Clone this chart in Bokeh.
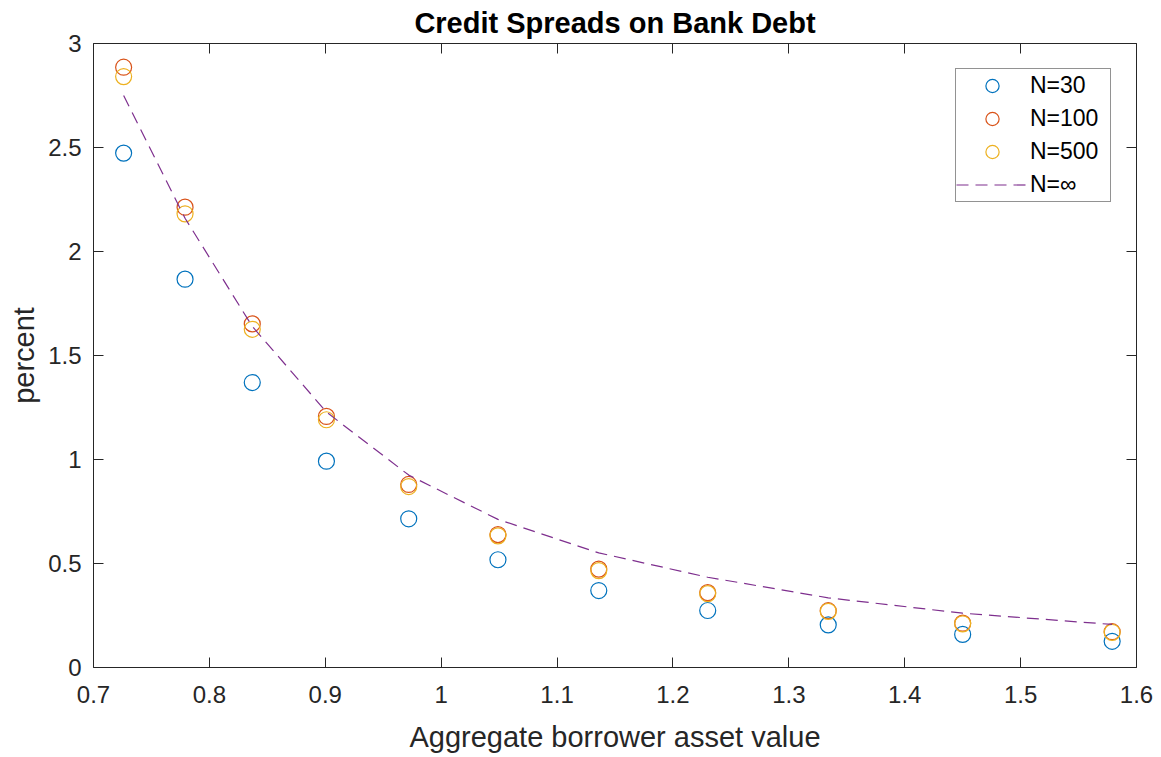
from bokeh.plotting import figure
from bokeh.models import LinearAxis, FixedTicker, Legend, LegendItem, Range1d
from bokeh.embed import file_html
from bokeh.resources import INLINE

# Aggregate borrower asset value (x) and credit spreads in percent per pool size
asset_value = [0.726, 0.779, 0.837, 0.901, 0.972, 1.049, 1.136, 1.230, 1.334, 1.450, 1.579]
spread_n30 = [2.473, 1.867, 1.370, 0.992, 0.715, 0.518, 0.370, 0.274, 0.205, 0.159, 0.126]
spread_n100 = [2.886, 2.213, 1.652, 1.207, 0.880, 0.639, 0.473, 0.360, 0.273, 0.213, 0.172]
spread_n500 = [2.841, 2.181, 1.626, 1.191, 0.870, 0.633, 0.466, 0.355, 0.270, 0.210, 0.169]
spread_inf = [2.750, 2.160, 1.640, 1.228, 0.925, 0.712, 0.551, 0.434, 0.335, 0.261, 0.207]

series_labels = ["N=30", "N=100", "N=500", "N=\u221e"]

x_ticks = [0.7, 0.8, 0.9, 1.0, 1.1, 1.2, 1.3, 1.4, 1.5, 1.6]
x_tick_labels = ["0.7", "0.8", "0.9", "1", "1.1", "1.2", "1.3", "1.4", "1.5", "1.6"]
y_ticks = [0, 0.5, 1, 1.5, 2, 2.5, 3]
y_tick_labels = ["0", "0.5", "1", "1.5", "2", "2.5", "3"]

FONT = "Liberation Sans"
AXIS_COLOR = "#262626"
C_BLUE, C_RED, C_YELLOW, C_PURPLE = "#0072BD", "#D95319", "#EDB120", "#7E2F8E"

p = figure(
    width=1161, height=757,
    x_range=Range1d(0.7, 1.6), y_range=Range1d(0, 3),
    output_backend="svg", toolbar_location=None,
    title="Credit Spreads on Bank Debt",
    min_border_left=93, min_border_right=25,
    min_border_top=43, min_border_bottom=90,
)
p.title.align = "center"
p.title.text_font = FONT
p.title.text_font_size = "29px"
p.title.text_font_style = "bold"
p.title.text_color = "black"
p.title.standoff = 9

p.xgrid.grid_line_color = None
p.ygrid.grid_line_color = None
p.outline_line_color = None
p.background_fill_color = "white"
p.border_fill_color = "white"

bottom_axis = p.below[0]
left_axis = p.left[0]

# Box-style axes: ticks pointing inward on all four sides
top_axis = LinearAxis()
right_axis = LinearAxis()
p.add_layout(top_axis, "above")
p.add_layout(right_axis, "right")

x_axes = [bottom_axis, top_axis]
y_axes = [left_axis, right_axis]
for ax in x_axes:
    ax.ticker = FixedTicker(ticks=x_ticks)
for ax in y_axes:
    ax.ticker = FixedTicker(ticks=y_ticks)
for ax in x_axes + y_axes:
    ax.axis_line_color = AXIS_COLOR
    ax.axis_line_width = 1
    ax.major_tick_line_color = AXIS_COLOR
    ax.major_tick_in = 10
    ax.major_tick_out = 0
    ax.minor_tick_line_color = None
    ax.major_label_text_font = FONT
    ax.major_label_text_color = AXIS_COLOR
    ax.major_label_text_font_size = "24px"
    ax.axis_label_text_font = FONT
    ax.axis_label_text_font_style = "normal"
    ax.axis_label_text_color = AXIS_COLOR
    ax.axis_label_text_font_size = "29px"
for ax in (top_axis, right_axis):
    ax.major_label_text_font_size = "1px"
    ax.major_label_text_color = None
    ax.major_label_standoff = 0

bottom_axis.major_label_overrides = dict(zip(x_ticks, x_tick_labels))
left_axis.major_label_overrides = dict(zip(y_ticks, y_tick_labels))
bottom_axis.major_label_standoff = 18
left_axis.major_label_standoff = 12
bottom_axis.axis_label = "Aggregate borrower asset value"
left_axis.axis_label = "percent"
bottom_axis.axis_label_standoff = 15
left_axis.axis_label_standoff = 5

r30 = p.scatter(asset_value, spread_n30, marker="circle", size=16,
                fill_color=None, line_color=C_BLUE, line_width=1.2)
r100 = p.scatter(asset_value, spread_n100, marker="circle", size=16,
                 fill_color=None, line_color=C_RED, line_width=1.2)
r500 = p.scatter(asset_value, spread_n500, marker="circle", size=16,
                 fill_color=None, line_color=C_YELLOW, line_width=1.2)
rinf = p.line(asset_value, spread_inf, line_color=C_PURPLE,
              line_dash="12 7", line_width=1.2)

legend = Legend(
    items=[LegendItem(label=lbl, renderers=[r])
           for lbl, r in zip(series_labels, [r30, r100, r500, rinf])],
    location=(862, 465),
    label_text_font=FONT, label_text_font_size="23px", label_text_color="black",
    label_standoff=2, label_width=80, label_height=33,
    glyph_width=72, glyph_height=33,
    spacing=0, padding=0, margin=0,
    border_line_color=AXIS_COLOR, border_line_width=1,
    background_fill_color="white", background_fill_alpha=1.0,
)
p.add_layout(legend)

open("out.html", "w").write(file_html(p, INLINE))
